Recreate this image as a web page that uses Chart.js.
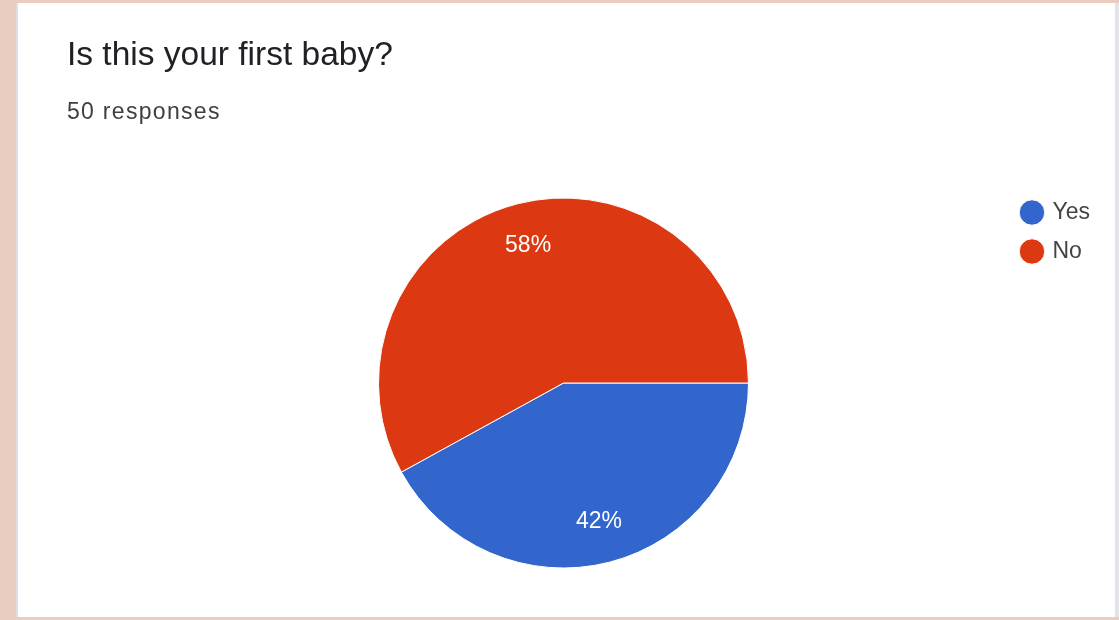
<!DOCTYPE html>
<html>
<head>
<meta charset="utf-8">
<script src="https://cdn.jsdelivr.net/npm/chart.js@4/dist/chart.umd.min.js"></script>
<style>
  html, body { margin: 0; padding: 0; }
  body { width: 1119px; height: 620px; background: #e8cdc0; position: relative; overflow: hidden; }
  #card { position: absolute; left: 16px; top: 3px; width: 1097px; height: 614px; background: #fff;
          border-left: 2px solid #dcdde6; border-right: 4px solid #e4e3ea; }
  #chart { position: absolute; left: 0; top: 0; }
  .title { position: absolute; left: 67px; top: 37px; font: 33.5px "Liberation Sans", Arial, sans-serif;
           line-height: 1; color: #202124; white-space: nowrap; }
  .sub { position: absolute; left: 67px; top: 100px; font: 23px "Liberation Sans", Arial, sans-serif;
         line-height: 1; letter-spacing: 1.3px; color: #3c4043; white-space: nowrap; }
</style>
</head>
<body>
<div id="card"></div>
<canvas id="chart" width="1119" height="620"></canvas>
<div class="title">Is this your first baby?</div>
<div class="sub">50 responses</div>

<script>
// --- DONNÉES ---
const labels = ['Yes', 'No'];
const counts = [21, 29];           // 50 réponses au total
const colors = ['#3366cc', '#dc3912'];

// --- POURCENTAGES DANS LES PARTS ---
const pctLabels = {
    id: 'pctLabels',
    afterDatasetsDraw(chart) {
        const ctx = chart.ctx;
        const meta = chart.getDatasetMeta(0);
        const total = counts.reduce((a, b) => a + b, 0);
        ctx.save();
        ctx.fillStyle = '#ffffff';
        ctx.font = '23px "Liberation Sans", Arial, sans-serif';
        ctx.textAlign = 'center';
        ctx.textBaseline = 'middle';
        meta.data.forEach((arc, i) => {
            const p = arc.getProps(['x', 'y', 'startAngle', 'endAngle', 'outerRadius'], true);
            const mid = (p.startAngle + p.endAngle) / 2;
            const r = p.outerRadius * 0.77;
            const pct = Math.round(counts[i] / total * 100) + '%';
            ctx.fillText(pct, p.x + Math.cos(mid) * r, p.y + Math.sin(mid) * r + 1);
        });
        ctx.restore();
    }
};

new Chart(document.getElementById('chart'), {
    type: 'pie',
    data: {
        labels: labels,
        datasets: [{
            data: counts,
            backgroundColor: colors,
            borderColor: '#ffffff',
            borderWidth: 1,
            radius: 185
        }]
    },
    options: {
        responsive: false,
        animation: false,
        rotation: 90,
        layout: { padding: { top: 185, bottom: 39, left: 120, right: 19 } },
        plugins: {
            tooltip: { enabled: false },
            legend: {
                position: 'right',
                align: 'start',
                labels: {
                    usePointStyle: true,
                    pointStyle: 'circle',
                    boxWidth: 18,
                    boxHeight: 18,
                    padding: 16,
                    color: '#444444',
                    font: { family: '"Liberation Sans", Arial, sans-serif', size: 23 }
                }
            }
        }
    },
    plugins: [pctLabels]
});
</script>
</body>
</html>
